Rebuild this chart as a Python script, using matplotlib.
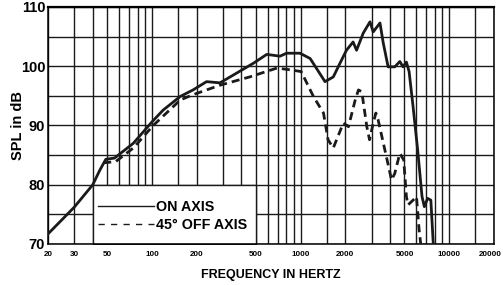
import matplotlib.pyplot as plt
from matplotlib.lines import Line2D
from matplotlib.ticker import FixedLocator, NullFormatter
from matplotlib.transforms import ScaledTranslation

plt.rcParams['font.family'] = ['Liberation Sans', 'DejaVu Sans']
plt.rcParams['lines.scale_dashes'] = False

# on axis response
on_freq = [20, 30, 40, 44.7, 49, 56, 75, 100, 119, 155, 189, 233, 287, 352, 481,
           592, 727, 805, 991, 1160, 1460, 1660, 1840, 2035, 2255, 2380, 2640,
           2930, 3080, 3420, 3600, 3880, 4300, 4650, 4890, 5150, 5370, 5710,
           6130, 6560, 6800, 7150, 7520, 7810, 8000]
on_spl = [71.7, 76.2, 80.0, 82.5, 84.3, 84.5, 87.0, 90.6, 92.6, 94.9, 96.0, 97.4,
          97.2, 98.5, 100.5, 102.0, 101.7, 102.2, 102.2, 101.3, 97.4, 98.2,
          100.5, 102.7, 104.1, 102.7, 105.6, 107.5, 105.8, 107.3, 103.9, 99.9,
          99.9, 100.8, 99.9, 100.7, 99.1, 93.2, 85.9, 78.0, 76.3, 77.7, 77.4,
          70.0, 66.0]

# 45 deg off axis response
off_freq = [47, 57, 75, 102, 155, 189, 287, 455, 694, 850, 1010, 1220, 1426,
            1531, 1659, 1840, 1940, 2100, 2330, 2450, 2580, 2790, 2910, 3080,
            3210, 3320, 3780, 4090, 4300, 4650, 4940, 5150, 5280, 5710, 6020,
            6270, 6500]
off_spl = [83.7, 83.9, 86.2, 90.0, 94.3, 95.2, 96.8, 98.2, 99.7, 99.4, 99.1,
           94.9, 92.1, 87.6, 86.2, 89.0, 90.4, 89.8, 94.3, 96.0, 95.7, 89.8,
           87.6, 90.4, 92.1, 91.0, 84.7, 80.8, 81.9, 85.3, 84.2, 78.0, 76.6,
           77.4, 78.0, 72.4, 69.0]

major_x = [20, 30, 50, 100, 200, 500, 1000, 2000, 5000, 10000, 20000]
minor_x = [40, 60, 70, 80, 90, 150, 300, 400, 600, 700, 800, 900, 1500,
           3000, 4000, 6000, 7000, 8000, 9000, 15000]
major_y = [70, 80, 90, 100, 110]
minor_y = [75, 85, 95, 105]

fig = plt.figure(figsize=(5.03, 2.85), dpi=100)
ax = fig.add_axes([48 / 503, 41 / 285, 446 / 503, 237 / 285])

ax.set_xscale('log')
ax.set_xlim(20, 20000)
ax.set_ylim(70, 110)

ax.xaxis.set_major_locator(FixedLocator(major_x))
ax.xaxis.set_minor_locator(FixedLocator(minor_x))
ax.xaxis.set_minor_formatter(NullFormatter())
ax.set_xticklabels([str(v) for v in major_x])
ax.yaxis.set_major_locator(FixedLocator(major_y))
ax.yaxis.set_minor_locator(FixedLocator(minor_y))

ax.set_axisbelow(True)
ax.grid(True, which='both', color='#1a1a1a', linewidth=1.0)
ax.tick_params(which='both', length=0)
ax.tick_params(axis='x', pad=5)
ax.tick_params(axis='y', pad=2)

xlabs = ax.get_xticklabels()
for lab in xlabs:
    lab.set_fontweight('bold')
    lab.set_fontsize(5.8)
# keep the last label inside the figure
xlabs[-1].set_transform(xlabs[-1].get_transform()
                        + ScaledTranslation(-3 / 72, 0, fig.dpi_scale_trans))
for lab in ax.get_yticklabels():
    lab.set_fontweight('bold')
    lab.set_fontsize(10.5)

for side in ['left', 'bottom', 'right']:
    ax.spines[side].set_linewidth(1.1)
ax.spines['top'].set_linewidth(1.6)

# white legend box covering grid cells
ax.fill_between([40, 500], 70, 80, facecolor='white', edgecolor='#1a1a1a',
                linewidth=1.0, zorder=1)

ax.plot(on_freq, on_spl, color='#1a1a1a', linewidth=2.0, zorder=3,
        solid_joinstyle='round')
ax.plot(off_freq, off_spl, color='#1a1a1a', linewidth=2.0, zorder=3,
        dashes=(5.8, 3.6))

handles = [Line2D([], [], color='#1a1a1a', linewidth=1.0),
           Line2D([], [], color='#1a1a1a', linewidth=1.0, dashes=(4.5, 4.5))]
ax.legend(handles, ['ON AXIS', '45° OFF AXIS'], loc='center left',
          bbox_to_anchor=(0.112, 0.118), frameon=False, borderpad=0,
          borderaxespad=0, handlelength=3.9, handletextpad=0.15,
          labelspacing=0.32, prop={'weight': 'bold', 'size': 10.3})

ax.set_xlabel('FREQUENCY IN HERTZ', fontsize=9, fontweight='bold', labelpad=8)
ax.set_ylabel('SPL in dB', fontsize=10.5, fontweight='bold', labelpad=-3)

fig.savefig('out.png', dpi=100)
